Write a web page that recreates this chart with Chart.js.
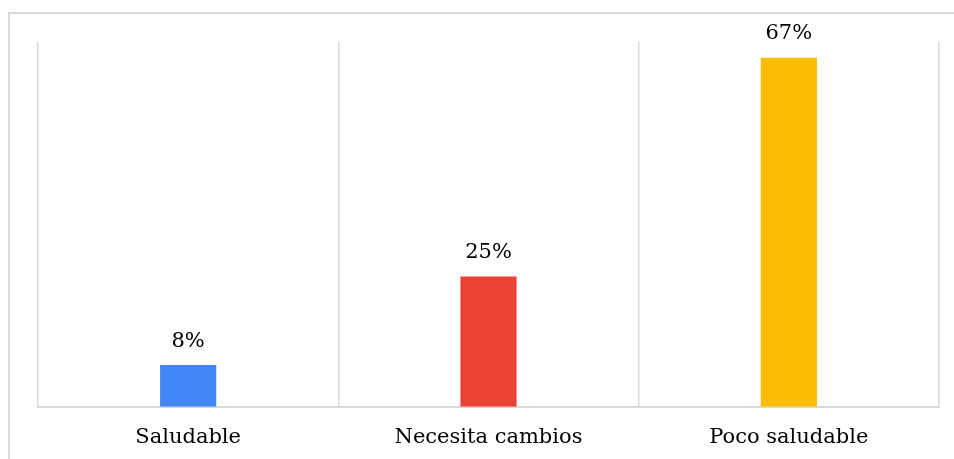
<!DOCTYPE html>
<html>
<head>
<meta charset="utf-8">
<script src="https://cdn.jsdelivr.net/npm/chart.js@4"></script>
<style>
  html, body { margin: 0; padding: 0; background: #fff; overflow: hidden; width: 954px; height: 459px; }
  .frame {
    position: absolute; left: 8px; top: 12px; width: 946px; height: 447px;
    border-top: 2px solid #d9d9d9; border-left: 2px solid #d9d9d9;
    box-sizing: border-box;
  }
  .wrap { position: absolute; left: 0; top: 0; width: 954px; height: 459px; }
</style>
</head>
<body>
<div class="frame"></div>
<div class="wrap"><canvas id="barChart"></canvas></div>
<script>
/* --- Datos --- */
const categorias = ['Saludable', 'Necesita cambios', 'Poco saludable'];
const porcentajes = [8, 25, 67];
const colores = ['#4285f4', '#ea4335', '#fbbc04'];

const fuente = "'DejaVu Serif', Georgia, serif";

/* --- Etiquetas de valor sobre cada barra --- */
const etiquetasValor = {
  id: 'etiquetasValor',
  afterDatasetsDraw(chart) {
    const { ctx } = chart;
    const meta = chart.getDatasetMeta(0);
    ctx.save();
    ctx.fillStyle = '#000';
    ctx.font = '21px ' + fuente;
    ctx.textAlign = 'center';
    ctx.textBaseline = 'middle';
    meta.data.forEach((bar, i) => {
      ctx.fillText(porcentajes[i] + '%', bar.x, bar.y - 24);
    });
    ctx.restore();
  }
};

new Chart(document.getElementById('barChart'), {
  type: 'bar',
  data: {
    labels: categorias,
    datasets: [{
      data: porcentajes,
      backgroundColor: colores,
      borderWidth: 0,
      categoryPercentage: 1,
      barPercentage: 0.187
    }]
  },
  options: {
    responsive: true,
    maintainAspectRatio: false,
    animation: false,
    layout: { padding: { left: 38, right: 15, top: 42, bottom: -9 } },
    plugins: {
      legend: { display: false },
      tooltip: { enabled: false }
    },
    scales: {
      x: {
        offset: true,
        grid: { display: true, offset: true, color: '#d9d9d9', lineWidth: 1.5, drawTicks: false },
        border: { display: true, color: '#d9d9d9', width: 2 },
        ticks: { color: '#000', font: { family: fuente, size: 21 }, padding: 18 }
      },
      y: {
        display: false,
        min: 0,
        max: 70
      }
    }
  },
  plugins: [etiquetasValor]
});
</script>
</body>
</html>
